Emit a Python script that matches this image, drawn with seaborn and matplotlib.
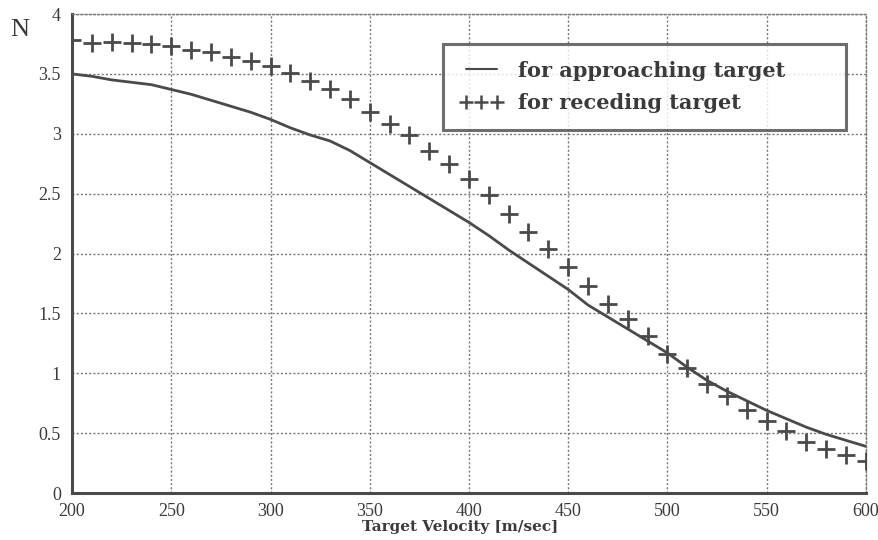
import numpy as np
import pandas as pd
import matplotlib
matplotlib.use("Agg")
import matplotlib.pyplot as plt
import seaborn as sns
from matplotlib.lines import Line2D

# ---- data ----
velocity_line = [200, 210, 220, 230, 240, 250, 260, 270, 280, 290, 300, 310, 320, 330, 340,
                 350, 360, 370, 380, 390, 400, 410, 420, 430, 440, 450, 460, 470, 480, 490,
                 500, 510, 520, 530, 540, 550, 560, 570, 580, 590, 600]
n_approaching = [3.50, 3.48, 3.45, 3.43, 3.41, 3.37, 3.33, 3.28, 3.23, 3.18, 3.12, 3.05, 2.99,
                 2.94, 2.86, 2.76, 2.66, 2.56, 2.46, 2.36, 2.26, 2.15, 2.03, 1.92, 1.81, 1.70,
                 1.57, 1.47, 1.37, 1.27, 1.17, 1.05, 0.94, 0.85, 0.77, 0.69, 0.62, 0.55, 0.49,
                 0.44, 0.39]
velocity_pts = velocity_line
n_receding = [3.78, 3.76, 3.77, 3.755, 3.75, 3.73, 3.70, 3.68, 3.64, 3.61, 3.57, 3.51, 3.44,
              3.37, 3.29, 3.18, 3.08, 2.99, 2.86, 2.75, 2.62, 2.49, 2.33, 2.18, 2.035, 1.89,
              1.73, 1.58, 1.45, 1.31, 1.16, 1.04, 0.91, 0.81, 0.69, 0.60, 0.52, 0.43, 0.365,
              0.32, 0.27]
x_ticks = [200, 250, 300, 350, 400, 450, 500, 550, 600]
y_ticks = [0, 0.5, 1, 1.5, 2, 2.5, 3, 3.5, 4]
y_tick_labels = ["0", "0.5", "1", "1.5", "2", "2.5", "3", "3.5", "4"]
legend_labels = ["for approaching target", "for receding target"]

df_line = pd.DataFrame({"v": velocity_line, "n": n_approaching})
df_pts = pd.DataFrame({"v": velocity_pts, "n": n_receding})

sns.set_style("white")
plt.rcParams["font.family"] = ["Liberation Serif", "DejaVu Serif"]

INK = "#4a4a4a"
TXT = "#3a3a3a"

fig = plt.figure(figsize=(8.79, 5.40), dpi=100)
ax = fig.add_axes([0.082, 0.087, 0.903, 0.887])

sns.lineplot(data=df_line, x="v", y="n", ax=ax, color=INK, linewidth=2.0, zorder=3)
sns.scatterplot(data=df_pts, x="v", y="n", ax=ax, marker="+", s=150, linewidth=2.0,
                color=INK, zorder=4, clip_on=True)

ax.set_xlim(200, 600)
ax.set_ylim(0, 4)
ax.set_xticks(x_ticks)
ax.set_xticklabels([str(t) for t in x_ticks])
ax.set_yticks(y_ticks)
ax.set_yticklabels(y_tick_labels)

ax.grid(True, linestyle=(0, (1.5, 1.5)), color="#777777", linewidth=1.0)
ax.set_axisbelow(True)

for side in ["left", "bottom"]:
    ax.spines[side].set_color(INK)
    ax.spines[side].set_linewidth(2.2)
for side in ["top", "right"]:
    ax.spines[side].set_color("#777777")
    ax.spines[side].set_linewidth(1.0)
    ax.spines[side].set_linestyle((0, (1.5, 1.5)))

ax.tick_params(axis="both", direction="in", length=7, width=2, color=INK,
               labelsize=13, labelcolor=TXT)
ax.tick_params(axis="x", pad=7)
ax.tick_params(axis="y", pad=8)

ax.set_xlabel("Target Velocity [m/sec]", fontsize=11, fontweight="bold", color=TXT,
              labelpad=1, family="DejaVu Serif")
ax.xaxis.set_label_coords((460 - 72) / (866 - 72), -0.056)
ax.set_ylabel("")
fig.text(0.012, 0.945, "N", fontsize=19, color=TXT, ha="left", va="center")

handles = [Line2D([], [], color=INK, linewidth=1.5),
           Line2D([], [], color=INK, linestyle="none", marker="+", markersize=10,
                  markeredgewidth=1.8)]
# legend box spans px x 443..846, y 44..128
x0 = (443 - 72) / (866 - 72)
x1 = (846 - 72) / (866 - 72)
y_top = (493 - 44) / (493 - 14)
y_bot = (493 - 128) / (493 - 14)
leg = ax.legend(handles, legend_labels, loc="upper left",
                bbox_to_anchor=(x0, y_bot, x1 - x0, y_top - y_bot), mode="expand",
                numpoints=3, handlelength=2.1, handletextpad=0.7,
                prop={"weight": "bold", "size": 15, "family": "DejaVu Serif"},
                frameon=True, fancybox=False,
                borderpad=0.8, labelspacing=0.6, borderaxespad=0)
leg.get_frame().set_edgecolor(INK)
leg.get_frame().set_linewidth(2.2)
for t in leg.get_texts():
    t.set_color(TXT)

fig.savefig("out.png", dpi=100, facecolor="white")
